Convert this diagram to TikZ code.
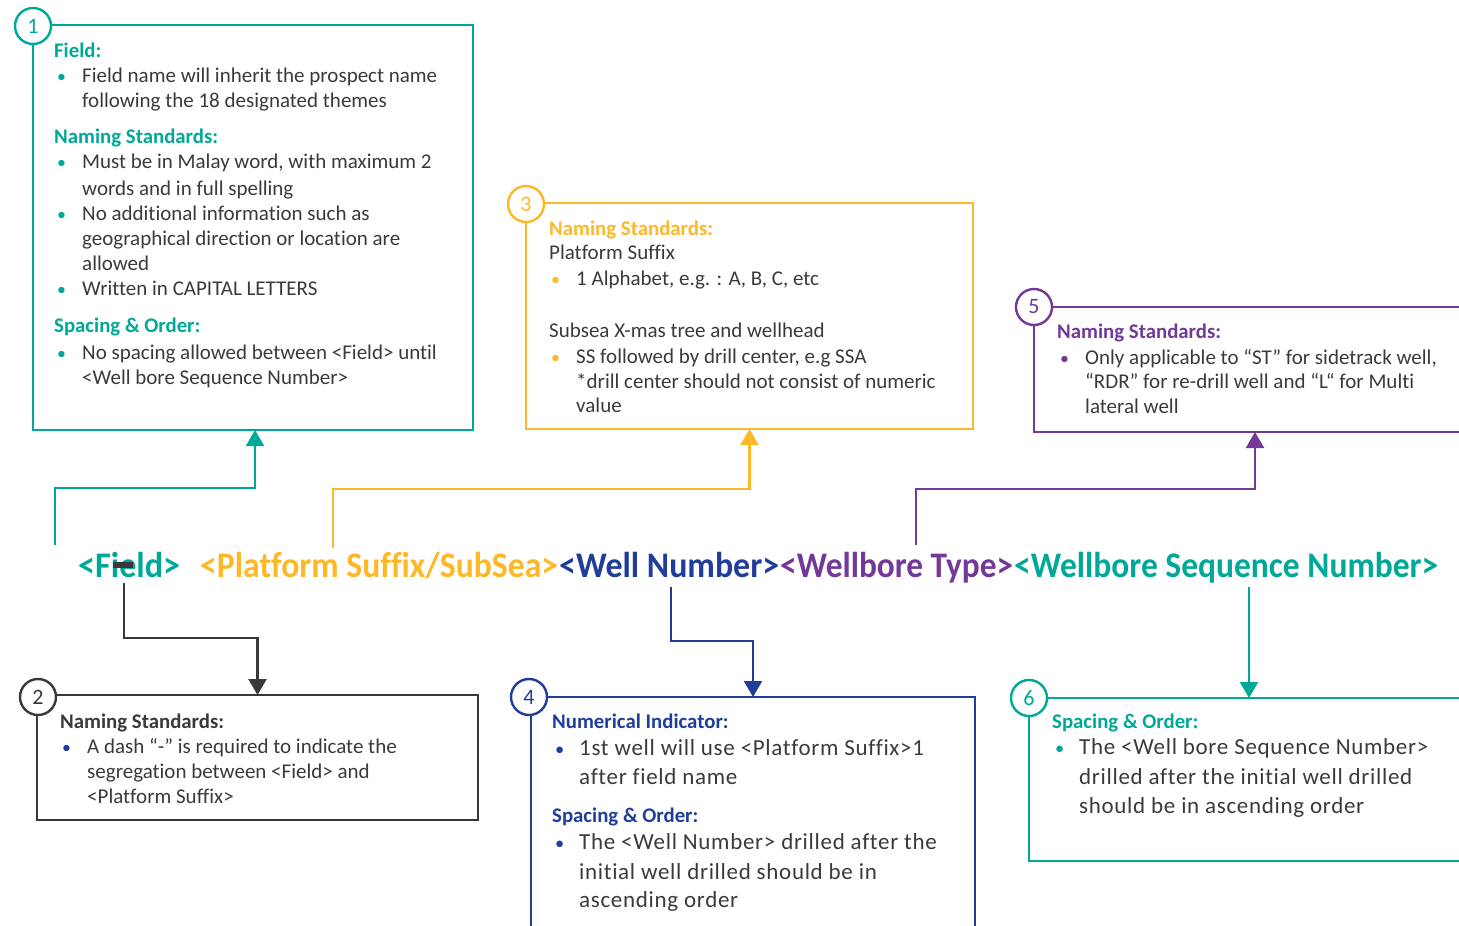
\documentclass[tikz,border=0pt]{standalone}
\usepackage{fontspec}
\setmainfont[Ligatures=NoCommon]{Carlito}
\newfontfamily\trackfont[LetterSpace=3,Ligatures=NoCommon]{Carlito}
\usetikzlibrary{arrows.meta}
\definecolor{cteal}{RGB}{0,168,152}
\definecolor{corange}{RGB}{253,184,39}
\definecolor{cblue}{RGB}{31,61,153}
\definecolor{cpurple}{RGB}{114,57,152}
\definecolor{cgray}{RGB}{59,56,56}
\definecolor{ctext}{RGB}{58,58,58}
\newcommand\bul[1]{\makebox[25pt][l]{\textcolor{#1}{\scalebox{0.85}{\textbullet}}}}
\newcommand\bigbul[1]{\makebox[24pt][l]{\textcolor{#1}{\scalebox{0.8}{\textbullet}}}}
\newcommand\seg[3]{\resizebox{#1}{\height}{\textcolor{#2}{#3}}}
\begin{document}
\begin{tikzpicture}[x=1pt,y=-1pt,
  box/.style={draw, line width=2.4pt, anchor=north west, inner sep=0pt, outer sep=0pt},
  num/.style={circle, draw, fill=white, line width=2.4pt, minimum size=36pt, inner sep=0pt, font=\fontsize{22}{22}\selectfont},
  ln/.style={anchor=mid west, yshift=-4pt, inner sep=0pt, text=ctext, font=\fontsize{21}{24}\selectfont},
  big/.style={anchor=mid west, yshift=-4pt, inner sep=0pt, text=ctext, font=\trackfont\fontsize{23}{28}\selectfont},
  hd/.style={anchor=mid west, yshift=-4pt, inner sep=0pt, font=\fontsize{20.8}{24}\selectfont\bfseries},
  conn/.style={line width=2.2pt, -{Triangle[width=18pt,length=16pt]}},
  title/.style={anchor=base west, inner sep=0pt, font=\fontsize{36}{36}\selectfont\bfseries}]
\useasboundingbox (0,0) rectangle (1459,926);
\clip (0,0) rectangle (1459,926);

% ---------- boxes ----------
\node[box, draw=cteal, minimum width=440pt, minimum height=405pt] (b1) at (33,25) {};
\node[box, draw=cgray, minimum width=441pt, minimum height=125pt] (b2) at (37,695) {};
\node[box, draw=corange, minimum width=447pt, minimum height=226pt] (b3) at (526,203) {};
\node[box, draw=cblue, minimum width=444pt, minimum height=270pt] (b4) at (531,697) {};
\node[box, draw=cpurple, minimum width=442pt, minimum height=125pt] (b5) at (1034,307) {};
\node[box, draw=cteal, minimum width=440pt, minimum height=163pt] (b6) at (1029,698) {};

% ---------- number circles ----------
\node[num, draw=cteal, text=cteal] (c1) at (33,26) {1};
\node[num, draw=cgray, text=cgray] (c2) at (38,697) {2};
\node[num, draw=corange, text=corange] (c3) at (526,204) {3};
\node[num, draw=cblue, text=cblue] (c4) at (529,697) {4};
\node[num, draw=cpurple, text=cpurple] (c5) at (1034,307) {5};
\node[num, draw=cteal, text=cteal] (c6) at (1029,698) {6};

% ---------- title line ----------
\node[title] (tf) at (78,577) {\seg{102pt}{cteal}{<Field>}};
\node[title] (tp) at (200,577) {\seg{358pt}{corange}{<Platform Suffix/SubSea>}};
\node[title] (tw) at (559,577) {\seg{220pt}{cblue}{<Well Number>}};
\node[title] (tt) at (780,577) {\seg{233pt}{cpurple}{<Wellbore Type>}};
\node[title] (ts) at (1014,577) {\seg{424pt}{cteal}{<Wellbore Sequence Number>}};
\node[fill=cgray, minimum width=20pt, minimum height=6pt, inner sep=0pt] (dash) at (123,565) {};

% ---------- connectors ----------
\coordinate (s1) at (55,545);
\coordinate (s3) at (333,548);
\coordinate (s5) at (916,545);
\coordinate (s2) at (124,583);
\coordinate (s4) at (671,587);
\coordinate (s6) at (1249,587);
\draw[conn, cteal] (s1) -- ++(0,-57) -| ([xshift=2pt]b1.south);
\draw[conn, corange] (s3) -- ++(0,-59) -| (b3.south);
\draw[conn, cpurple] (s5) -- ++(0,-56) -| (b5.south);
\draw[conn, cgray] (s2) -- ++(0,55) -| (b2.north);
\draw[conn, cblue] (s4) -- ++(0,54) -| (b4.north);
\draw[conn, cteal] (s6) -- (b6.north);

% ---------- box 1 text ----------
\node[hd, text=cteal] (h1a) at (54,51) {Field:};
\node[ln] (t1a) at (57,76) {\bul{cteal}Field name will inherit the prospect name};
\node[ln] (t1b) at (82,101) {following the 18 designated themes};
\node[hd, text=cteal] (h1b) at (54,137) {Naming Standards:};
\node[ln] (t1c) at (57,162) {\bul{cteal}Must be in Malay word, with maximum 2};
\node[ln] (t1d) at (82,189) {words and in full spelling};
\node[ln] (t1e) at (57,214) {\bul{cteal}No additional information such as};
\node[ln] (t1f) at (82,239) {geographical direction or location are};
\node[ln] (t1g) at (82,264) {allowed};
\node[ln] (t1h) at (57,289) {\bul{cteal}Written in CAPITAL LETTERS};
\node[hd, text=cteal] (h1c) at (54,326) {Spacing \& Order:};
\node[ln] (t1i) at (57,353) {\bul{cteal}No spacing allowed between <Field> until};
\node[ln] (t1j) at (82,378) {<Well bore Sequence Number>};

% ---------- box 2 text ----------
\node[hd, text=cgray] (h2a) at (60,722) {Naming Standards:};
\node[ln] (t2a) at (62,747) {\bul{cblue}A dash “-” is required to indicate the};
\node[ln] (t2b) at (87,772) {segregation between <Field> and};
\node[ln] (t2c) at (87,797) {<Platform Suffix>};

% ---------- box 3 text ----------
\node[hd, text=corange] (h3a) at (549,229) {Naming Standards:};
\node[ln] (t3a) at (549,253) {Platform Suffix};
\node[ln] (t3b) at (551,279) {\bul{corange}1 Alphabet, e.g. : A, B, C, etc};
\node[ln] (t3c) at (549,331) {Subsea X-mas tree and wellhead};
\node[ln] (t3d) at (551,357) {\bul{corange}SS followed by drill center, e.g SSA};
\node[ln] (t3e) at (576,382) {*drill center should not consist of numeric};
\node[ln] (t3f) at (576,406) {value};

% ---------- box 4 text ----------
\node[hd, text=cblue] (h4a) at (552,722) {Numerical Indicator:};
\node[big] (t4a) at (555,749) {\bigbul{cblue}1st well will use <Platform Suffix>1};
\node[big] (t4b) at (579,778) {after field name};
\node[hd, text=cblue] (h4b) at (552,816) {Spacing \& Order:};
\node[big] (t4c) at (555,843) {\bigbul{cblue}The <Well Number> drilled after the};
\node[big] (t4d) at (579,873) {initial well drilled should be in};
\node[big] (t4e) at (579,901) {ascending order};

% ---------- box 5 text ----------
\node[hd, text=cpurple] (h5a) at (1057,332) {Naming Standards:};
\node[ln] (t5a) at (1060,358) {\bul{cpurple}Only applicable to “ST” for sidetrack well,};
\node[ln] (t5b) at (1085,382) {“RDR” for re-drill well and “L“ for Multi};
\node[ln] (t5c) at (1085,407) {lateral well};

% ---------- box 6 text ----------
\node[hd, text=cteal] (h6a) at (1052,722) {Spacing \& Order:};
\node[big] (t6a) at (1055,748) {\bigbul{cteal}The <Well bore Sequence Number>};
\node[big] (t6b) at (1079,778) {drilled after the initial well drilled};
\node[big] (t6c) at (1079,807) {should be in ascending order};
\end{tikzpicture}
\end{document}
